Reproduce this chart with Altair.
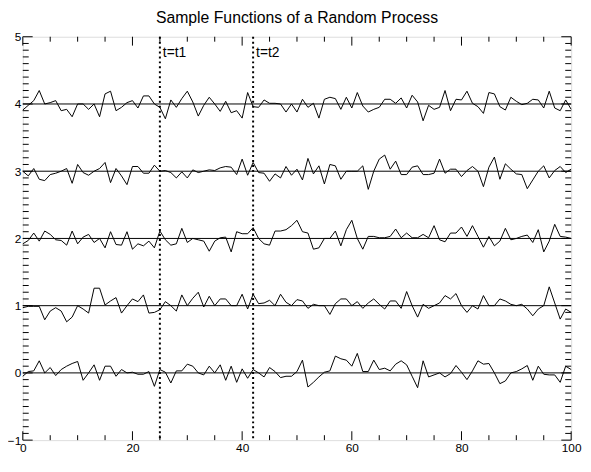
import altair as alt
import pandas as pd

# ---------------- data ----------------
x_vals = list(range(101))
levels = [0, 1, 2, 3, 4]

dev4 = [-0.09, -0.02, 0.05, 0.20, 0.00, 0.02, 0.05, -0.10, -0.08, -0.19, 0.00, 0.00, -0.08, 0.00, -0.19, 0.15,
        0.19, -0.10, -0.05, 0.02, 0.05, -0.06, 0.12, 0.12, 0.00, -0.05, -0.22, 0.06, -0.05, 0.08, 0.19, 0.03,
        -0.18, -0.02, 0.10, 0.00, -0.11, 0.04, -0.13, -0.10, -0.21, 0.17, -0.04, -0.05, 0.06, 0.01, 0.01, 0.00,
        -0.12, 0.00, -0.12, 0.07, -0.05, 0.01, -0.21, 0.07, 0.10, 0.08, -0.08, 0.10, -0.06, 0.17, -0.03, -0.12,
        -0.08, -0.05, 0.07, 0.07, 0.01, 0.09, -0.06, 0.13, 0.03, -0.25, -0.02, -0.08, -0.05, 0.20, -0.10, 0.07,
        0.06, 0.19, 0.01, -0.04, -0.14, 0.17, 0.15, -0.04, -0.09, 0.10, 0.04, -0.01, 0.01, 0.07, 0.06, -0.06,
        0.19, -0.06, -0.10, 0.06, -0.08]

dev3 = [0.00, -0.07, 0.04, -0.12, -0.14, -0.05, -0.03, 0.00, 0.04, -0.18, 0.10, -0.02, -0.06, 0.00, 0.04, 0.13,
        -0.17, 0.04, -0.07, -0.20, 0.07, 0.07, -0.03, -0.03, 0.09, 0.00, 0.01, -0.02, -0.10, -0.01, -0.10, 0.02,
        -0.02, 0.00, 0.02, 0.01, 0.05, 0.07, 0.06, -0.05, 0.18, -0.06, 0.13, -0.02, -0.03, -0.15, -0.04, -0.10,
        0.07, -0.06, 0.03, -0.13, 0.19, -0.04, 0.08, -0.19, 0.10, 0.08, -0.12, 0.00, 0.00, 0.00, 0.08, -0.27,
        0.00, 0.18, 0.24, 0.03, 0.15, -0.05, -0.05, 0.06, 0.08, -0.05, -0.05, -0.03, 0.18, -0.03, 0.03, 0.03,
        -0.08, 0.01, 0.07, 0.00, -0.23, 0.06, 0.21, -0.12, 0.11, 0.03, -0.04, -0.05, -0.26, -0.13, 0.00, 0.08,
        -0.10, 0.01, 0.07, -0.02, 0.03]

dev2 = [-0.08, -0.03, 0.08, -0.04, 0.11, 0.06, -0.02, -0.03, -0.10, 0.11, -0.08, 0.02, 0.06, -0.06, 0.00, -0.14,
        0.10, -0.09, -0.10, 0.10, -0.16, -0.08, -0.11, -0.04, -0.14, 0.11, -0.02, -0.10, -0.08, 0.15, -0.06, 0.00,
        -0.02, -0.04, -0.19, -0.04, 0.01, 0.02, -0.20, 0.10, 0.07, 0.07, 0.16, 0.00, -0.08, -0.10, 0.11, 0.11,
        0.13, 0.19, 0.27, 0.10, 0.08, -0.16, -0.14, 0.00, 0.00, 0.11, -0.11, 0.13, 0.27, 0.00, -0.16, 0.03,
        0.03, 0.01, 0.01, 0.03, 0.14, 0.01, 0.08, 0.01, 0.01, 0.06, 0.01, 0.19, -0.02, -0.05, 0.08, 0.08,
        0.17, 0.03, 0.19, 0.03, -0.13, 0.03, -0.11, -0.04, 0.15, -0.02, 0.00, 0.03, 0.05, -0.06, 0.13, -0.20,
        -0.04, 0.21, 0.03, 0.02, 0.00]

dev1 = [-0.03, -0.01, -0.01, -0.01, -0.21, -0.08, -0.03, -0.08, -0.24, -0.17, 0.00, -0.05, -0.11, 0.26, 0.26, 0.01,
        0.07, 0.12, -0.11, 0.00, 0.10, 0.06, 0.16, -0.11, -0.10, -0.06, 0.06, 0.00, -0.08, 0.16, 0.00, 0.11,
        0.20, -0.02, 0.14, 0.00, 0.10, 0.10, 0.00, 0.00, 0.17, -0.05, 0.17, 0.03, 0.04, 0.08, 0.00, 0.17,
        0.05, 0.00, 0.09, 0.07, -0.04, 0.02, 0.00, 0.00, -0.13, 0.03, 0.10, 0.10, 0.00, 0.06, -0.04, 0.04,
        0.10, 0.02, -0.05, 0.07, 0.07, -0.04, 0.21, 0.00, -0.17, 0.02, -0.04, 0.00, 0.04, 0.15, 0.10, 0.18,
        0.00, -0.10, 0.00, -0.05, 0.15, 0.00, 0.00, 0.10, 0.07, 0.02, 0.00, 0.02, -0.05, -0.15, -0.05, 0.00,
        0.28, 0.04, -0.20, -0.05, -0.10]

dev0 = [-0.05, 0.02, 0.03, 0.18, 0.00, 0.08, -0.04, 0.05, 0.10, 0.14, 0.17, -0.11, 0.00, 0.12, -0.11, 0.10,
        0.10, -0.05, 0.05, 0.00, 0.01, -0.02, -0.02, 0.02, -0.20, 0.05, 0.01, -0.15, 0.03, 0.03, 0.13, 0.10,
        0.00, -0.03, 0.10, 0.00, 0.12, -0.11, 0.10, -0.14, 0.06, -0.08, 0.05, 0.00, -0.06, 0.08, 0.02, -0.07,
        -0.05, -0.05, 0.02, 0.19, -0.21, -0.14, -0.06, 0.01, 0.03, 0.25, 0.21, 0.19, 0.10, 0.29, 0.02, 0.02,
        0.19, 0.05, 0.07, 0.03, 0.13, 0.18, 0.12, -0.05, -0.22, 0.18, -0.06, -0.03, 0.00, -0.06, -0.01, 0.11,
        0.01, -0.10, 0.03, 0.18, 0.13, 0.14, 0.00, -0.16, -0.12, 0.00, 0.02, 0.06, 0.11, -0.11, 0.10, -0.02,
        -0.03, -0.03, -0.14, 0.10, 0.05]

t_pos = [25, 42]
t_labels = ["t=t1", "t=t2"]
t_label_y = [4.75, 4.75]

x_major = [0, 20, 40, 60, 80, 100]
x_minor = [5, 10, 15, 25, 30, 35, 45, 50, 55, 65, 70, 75, 85, 90, 95]
y_major = [-1, 0, 1, 2, 3, 4, 5]
y_minor = [round(-1 + 0.1 * i, 1) for i in range(61) if i % 10 != 0]

title_text = "Sample Functions of a Random Process"

# ---------------- tables ----------------
rows = []
for lvl, dev in zip(levels, [dev0, dev1, dev2, dev3, dev4]):
    for xv, d in zip(x_vals, dev):
        rows.append({"x": xv, "y": lvl + d, "s": f"s{lvl}"})
df = pd.DataFrame(rows)
df_lvl = pd.DataFrame({"y": levels})
df_t = pd.DataFrame({"x": t_pos, "y": t_label_y, "label": t_labels})
df_xmaj = pd.DataFrame({"x": x_major})
df_xmin = pd.DataFrame({"x": x_minor})
df_ymaj = pd.DataFrame({"y": y_major})
df_ymin = pd.DataFrame({"y": y_minor})

W, H = 556, 409
FONT = "Liberation Sans"

xs = alt.Scale(domain=[0, 100], nice=False, zero=False)
ys = alt.Scale(domain=[-1, 5], nice=False, zero=False)
xaxis = alt.Axis(values=x_major, ticks=False, domain=False, grid=False, title=None, labelFlush=False,
                 labelFontSize=12, labelPadding=3, labelFont=FONT, labelColor="black", format="d")
yaxis = alt.Axis(values=y_major, ticks=False, domain=False, grid=False, title=None, labelFlush=False,
                 labelFontSize=12, labelPadding=2, labelFont=FONT, labelColor="black", format="d")


def X(f="x"):
    return alt.X(f"{f}:Q", scale=xs, axis=xaxis)


def Y(f="y"):
    return alt.Y(f"{f}:Q", scale=ys, axis=yaxis)


lines = alt.Chart(df).mark_line(color="black", strokeWidth=1).encode(
    x=X(), y=Y(), detail="s:N", order="x:Q")

hlines = alt.Chart(df_lvl).mark_rule(color="black", strokeWidth=1).encode(y=Y())

vlines = alt.Chart(df_t).mark_rule(color="black", strokeWidth=2, strokeDash=[2, 3]).encode(x=X())

tlabels = alt.Chart(df_t).mark_text(align="left", baseline="middle", dx=3, fontSize=14,
                                    font=FONT, color="black").encode(x=X(), y=Y(), text="label:N")

xt_bot_maj = alt.Chart(df_xmaj).mark_rule(color="black").encode(x=X(), y=alt.value(H), y2=alt.value(H - 9))
xt_top_maj = alt.Chart(df_xmaj).mark_rule(color="black").encode(x=X(), y=alt.value(0), y2=alt.value(9))
xt_bot_min = alt.Chart(df_xmin).mark_rule(color="black").encode(x=X(), y=alt.value(H), y2=alt.value(H - 5))
xt_top_min = alt.Chart(df_xmin).mark_rule(color="black").encode(x=X(), y=alt.value(0), y2=alt.value(5))
yt_l_maj = alt.Chart(df_ymaj).mark_rule(color="black").encode(y=Y(), x=alt.value(0), x2=alt.value(10))
yt_r_maj = alt.Chart(df_ymaj).mark_rule(color="black").encode(y=Y(), x=alt.value(W), x2=alt.value(W - 10))
yt_l_min = alt.Chart(df_ymin).mark_rule(color="black").encode(y=Y(), x=alt.value(0), x2=alt.value(6))
yt_r_min = alt.Chart(df_ymin).mark_rule(color="black").encode(y=Y(), x=alt.value(W), x2=alt.value(W - 6))

chart = alt.layer(
    hlines, vlines, lines, tlabels,
    xt_bot_maj, xt_top_maj, xt_bot_min, xt_top_min,
    yt_l_maj, yt_r_maj, yt_l_min, yt_r_min,
).properties(
    width=W, height=H,
    title=alt.TitleParams(title_text, fontSize=16, font=FONT, fontWeight="normal",
                          color="black", anchor="middle", offset=5),
    autosize=alt.AutoSizeParams(type="none"),
    padding={"left": 15, "top": 26, "right": 12, "bottom": 17},
).configure_view(
    stroke="black", strokeWidth=1
).configure(background="white")

chart.save("out.html", embed_options={"renderer": "svg", "actions": False})
